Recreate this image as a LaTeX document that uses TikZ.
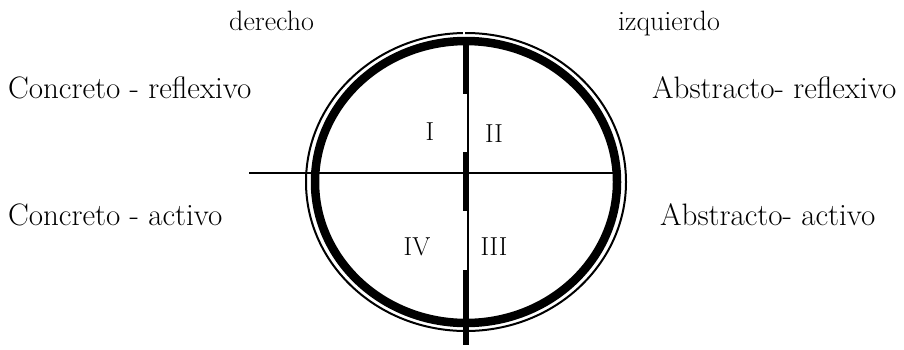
\documentclass[tikz,border=0pt]{standalone}
\begin{document}
\begin{tikzpicture}[x=1pt, y=-1pt,
    etiqueta/.style={anchor=base west, inner sep=0pt, font=\fontsize{31}{34}\selectfont},
    lado/.style={anchor=base west, inner sep=0pt, font=\fontsize{28}{32}\selectfont},
    cuadrante/.style={anchor=base, inner sep=0pt, font=\fontsize{26}{30}\selectfont}]
    \useasboundingbox (0, 0) rectangle (904, 349);

    % anillos del círculo
    \draw[line width=2pt] (466, 182) ellipse [x radius=160, y radius=149];
    \draw[line width=8.5pt] (466, 182) ellipse [x radius=151, y radius=141];
    \draw[white, line width=2.5pt] (464, 28) -- (464, 36);

    % ejes
    \coordinate (izq) at (249, 173);
    \coordinate (der) at (615, 173);
    \coordinate (arriba) at (468, 37);
    \coordinate (abajo) at (468, 345);
    \draw[line width=2pt] (izq) -- (der);
    \draw[line width=2pt] (arriba) -- (abajo);

    % tramos gruesos del eje vertical
    \draw[line width=6pt] (466, 38) -- (466, 94);
    \draw[line width=6pt] (466, 152) -- (466, 211);
    \draw[line width=6pt] (466, 270) -- (466, 345);

    % hemisferios
    \node[lado] (derecho) at (229, 30) {derecho};
    \node[lado] (izquierdo) at (618, 30) {izquierdo};

    % estilos
    \node[etiqueta] (cr) at (8, 98) {Concreto - reflexivo};
    \node[etiqueta] (ar) at (652, 98) {Abstracto- reflexivo};
    \node[etiqueta] (ca) at (8, 225) {Concreto - activo};
    \node[etiqueta] (aa) at (660, 225) {Abstracto- activo};

    % cuadrantes
    \node[cuadrante] (q1) at (430, 140) {I};
    \node[cuadrante] (q2) at (494, 142) {II};
    \node[cuadrante] (q4) at (417, 255) {IV};
    \node[cuadrante] (q3) at (494, 255) {III};
\end{tikzpicture}
\end{document}
